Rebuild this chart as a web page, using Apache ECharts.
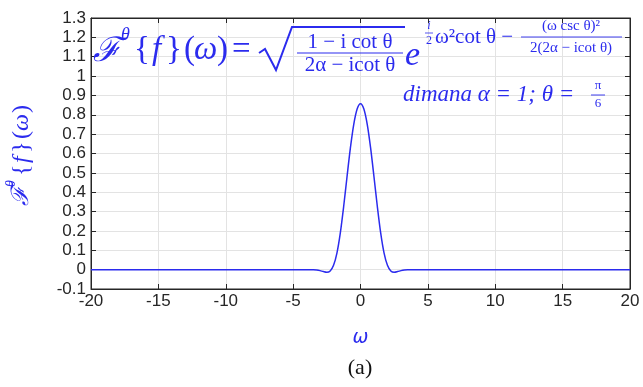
<!DOCTYPE html>
<html>
<head>
<meta charset="utf-8">
<script src="https://cdn.jsdelivr.net/npm/echarts@6/dist/echarts.min.js"></script>
<style>
  html, body { margin: 0; padding: 0; background: #fff; }
  #chart { width: 643px; height: 387px; }
</style>
</head>
<body>
<div id="chart"></div>
<script>
// values (omega vs transform amplitude)
const omega = [-20, -4, -3.5, -3.25, -3, -2.75, -2.5, -2.25, -2, -1.75, -1.5, -1.25, -1, -0.75, -0.5, -0.25,
  0, 0.25, 0.5, 0.75, 1, 1.25, 1.5, 1.75, 2, 2.25, 2.5, 2.75, 3, 3.25, 3.5, 4, 20];
const amplitude = [0, 0, -0.0003, -0.0017, -0.0051, -0.0101, -0.0134, -0.0068, 0.0222, 0.0855, 0.1886, 0.326, 0.48, 0.629, 0.751, 0.83,
  0.857, 0.83, 0.751, 0.629, 0.48, 0.326, 0.1886, 0.0855, 0.0222, -0.0068, -0.0134, -0.0101, -0.0051, -0.0017, -0.0003, 0, 0];

const xTicks = { min: -20, max: 20, interval: 5 };
const yTicks = { min: -0.1, max: 1.3, interval: 0.1 };

const blue = '#2b2bee';
const axisColor = '#262626';
const mathFont = 'Liberation Serif';

const chart = echarts.init(document.getElementById('chart'));

function txt(text, x, y, size, opts = {}) {
  return {
    type: 'text',
    x: x,
    y: y,
    z: 100,
    style: {
      text: text,
      font: (opts.italic ? 'italic ' : '') + size + 'px "' + (opts.family || mathFont) + '"',
      fill: opts.color || blue,
      textAlign: opts.align || 'left',
      textVerticalAlign: 'middle'
    }
  };
}

function bar(x1, x2, y, w = 1.2) {
  return {
    type: 'line',
    z: 100,
    shape: { x1: x1, y1: y, x2: x2, y2: y },
    style: { stroke: blue, lineWidth: w }
  };
}

const formula = [
  txt('ℱ', 93, 52, 34, { italic: true }),
  txt('θ', 121, 35, 18, { italic: true }),
  txt('{', 134, 50, 33),
  txt('f', 152, 50, 33, { italic: true }),
  txt('}', 166, 50, 33),
  txt('(', 184, 50, 33),
  txt('ω', 194, 50, 33, { italic: true }),
  txt(')', 217, 50, 33),
  txt('=', 232, 50, 33),
  {
    type: 'polyline',
    z: 100,
    shape: { points: [[259, 53], [265, 49], [276, 70], [292, 27], [405, 27]] },
    style: { stroke: blue, lineWidth: 2, fill: null }
  },
  txt('1 − i cot θ', 350, 42, 21, { align: 'center' }),
  bar(297, 403, 53),
  txt('2α − icot θ', 350, 65, 21, { align: 'center' }),
  txt('e', 405, 56, 34, { italic: true }),
  txt('i', 429, 26, 12, { italic: true, align: 'center' }),
  bar(425, 433, 33, 0.8),
  txt('2', 429, 41, 12, { align: 'center' }),
  txt('ω²cot θ −', 435, 37, 21),
  txt('(ω csc θ)²', 571, 26, 15, { align: 'center' }),
  bar(521, 622, 37, 0.9),
  txt('2(2α − icot θ)', 571, 48, 15, { align: 'center' }),
  txt('dimana α = 1; θ = ', 403, 95, 23, { italic: true }),
  txt('π', 598, 86, 13, { align: 'center' }),
  bar(591, 605, 95, 0.9),
  txt('6', 598, 104, 13, { align: 'center' })
];

const yName = {
  type: 'group',
  x: 22,
  y: 206,
  rotation: Math.PI / 2,
  children: [
    txt('ℱ', 0, 0, 24, { italic: true }),
    txt('θ', 19, -11, 14, { italic: true }),
    txt('{', 30, 0, 24),
    txt('f', 43, 0, 24, { italic: true }),
    txt('}', 53, 0, 24),
    txt('(', 67, 0, 24),
    txt('ω', 75, 0, 24, { italic: true }),
    txt(')', 93, 0, 24)
  ]
};

const option = {
  animation: false,
  backgroundColor: '#fff',
  grid: { left: 91, right: 13, top: 18, bottom: 98, show: true, borderColor: axisColor, borderWidth: 1 },
  xAxis: [{
    type: 'value',
    min: xTicks.min,
    max: xTicks.max,
    interval: xTicks.interval,
    name: 'ω',
    nameLocation: 'middle',
    nameGap: 40,
    nameTextStyle: { color: blue, fontFamily: 'DejaVu Sans', fontStyle: 'italic', fontSize: 19 },
    axisLine: { show: true, onZero: false, lineStyle: { color: axisColor, width: 1 } },
    axisTick: { show: true, inside: true, length: 5, lineStyle: { color: axisColor } },
    axisLabel: { color: axisColor, fontFamily: 'Liberation Sans', fontSize: 17, margin: 4 },
    splitLine: { show: true, lineStyle: { color: '#e3e3e3', width: 1 } }
  }, {
    type: 'value',
    position: 'top',
    min: xTicks.min,
    max: xTicks.max,
    interval: xTicks.interval,
    axisLine: { show: true, onZero: false, lineStyle: { color: axisColor, width: 1 } },
    axisTick: { show: true, inside: true, length: 5, lineStyle: { color: axisColor } },
    axisLabel: { show: false },
    splitLine: { show: false }
  }],
  yAxis: [{
    type: 'value',
    min: yTicks.min,
    max: yTicks.max,
    interval: yTicks.interval,
    axisLine: { show: true, onZero: false, lineStyle: { color: axisColor, width: 1 } },
    axisTick: { show: true, inside: true, length: 5, lineStyle: { color: axisColor } },
    axisLabel: {
      color: axisColor, fontFamily: 'Liberation Sans', fontSize: 17, margin: 5,
      formatter: v => String(+v.toFixed(1))
    },
    splitLine: { show: true, lineStyle: { color: '#e3e3e3', width: 1 } }
  }, {
    type: 'value',
    position: 'right',
    min: yTicks.min,
    max: yTicks.max,
    interval: yTicks.interval,
    axisLine: { show: true, onZero: false, lineStyle: { color: axisColor, width: 1 } },
    axisTick: { show: true, inside: true, length: 5, lineStyle: { color: axisColor } },
    axisLabel: { show: false },
    splitLine: { show: false }
  }],
  series: [{
    type: 'line',
    data: omega.map((w, i) => [w, amplitude[i]]),
    smooth: 0.3,
    showSymbol: false,
    lineStyle: { color: blue, width: 1.5 }
  }],
  graphic: formula.concat([
    yName,
    txt('(a)', 360, 368, 22, { family: 'Liberation Serif', color: '#111', align: 'center' })
  ])
};

chart.setOption(option);
</script>
</body>
</html>
